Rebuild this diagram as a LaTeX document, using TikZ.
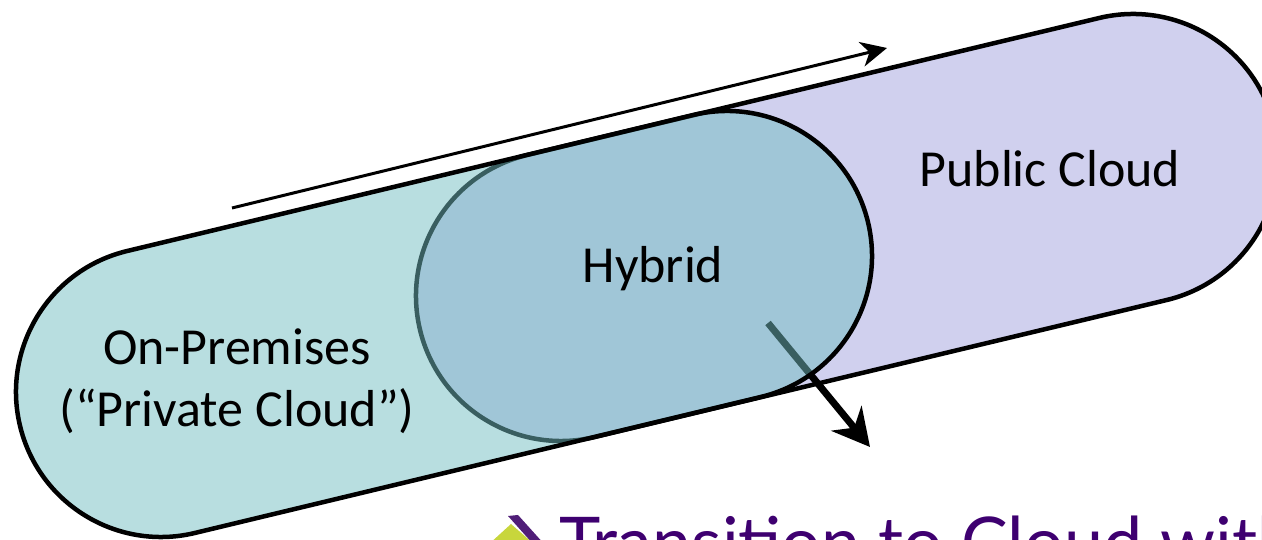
\documentclass[tikz,border=0pt]{standalone}
\usepackage{fontspec}
\setmainfont{Carlito}
\newfontfamily\titlefont{Lato}
\usetikzlibrary{calc,arrows.meta}
\definecolor{privfill}{RGB}{114,189,193}
\definecolor{pubfill}{RGB}{208,208,238}
\definecolor{titlepurple}{RGB}{62,0,112}
\definecolor{iconyellow}{RGB}{200,214,60}
\definecolor{iconpurple}{RGB}{80,30,120}
\begin{document}
\begin{tikzpicture}[x=1pt,y=1pt,
  capsule/.style={line width=4.5pt, draw=black, line join=round},
  lbl/.style={font=\fontsize{52}{62}\selectfont, inner sep=0pt, anchor=base, align=center},
  thinarrow/.style={line width=3pt, -{Stealth[length=26pt,width=25pt,inset=8pt]}},
  thickarrow/.style={line width=7pt, -{Stealth[length=37pt,width=39pt,inset=12pt]}}]
\useasboundingbox (0,0) rectangle (1262,540);
\clip (0,0) rectangle (1262,540);
\def\ang{13.48}
\def\rad{145}
% cap centres
\coordinate (L1) at (161,148);
\coordinate (R1) at (727,284);
\coordinate (L2) at (561,244);
\coordinate (R2) at (1133,381);
% public cloud capsule
\draw[capsule, fill=pubfill] ($(L2)+(\ang-90:\rad)$) -- ($(R2)+(\ang-90:\rad)$)
  arc[start angle=\ang-90, end angle=\ang+90, radius=\rad]
  -- ($(L2)+(\ang+90:\rad)$)
  arc[start angle=\ang+90, end angle=\ang+270, radius=\rad] -- cycle;
% arrow out of hybrid (lies beneath the private capsule)
\coordinate (a2s) at (768,217);
\coordinate (a2e) at (870,93);
\draw[thickarrow] (a2s) -- (a2e);
% private capsule
\draw[capsule, fill=privfill, fill opacity=0.5] ($(L1)+(\ang-90:\rad)$) -- ($(R1)+(\ang-90:\rad)$)
  arc[start angle=\ang-90, end angle=\ang+90, radius=\rad]
  -- ($(L1)+(\ang+90:\rad)$)
  arc[start angle=\ang+90, end angle=\ang+270, radius=\rad] -- cycle;
% top arrow
\coordinate (a1s) at (232,332);
\coordinate (a1e) at (887,492);
\draw[thinarrow] (a1s) -- (a1e);
% labels
\node[lbl] (hybrid) at (653,257) {Hybrid};
\node[lbl] (public) at (1050,353) {Public Cloud};
\node[lbl] (onprem) at (237,113) {On-Premises\\(“Private Cloud”)};
% title
\fill[iconyellow] (488,-5) -- (511,16) -- (535,-5) -- cycle;
\fill[iconpurple] (508,24) -- (518,25) -- (545,-5) -- (534,-5) -- cycle;
\node[anchor=base west, inner sep=0pt, font=\titlefont\fontsize{70}{76}\selectfont, text=titlepurple] (title) at (559,-28) {Transition to Cloud with};
\end{tikzpicture}
\end{document}
